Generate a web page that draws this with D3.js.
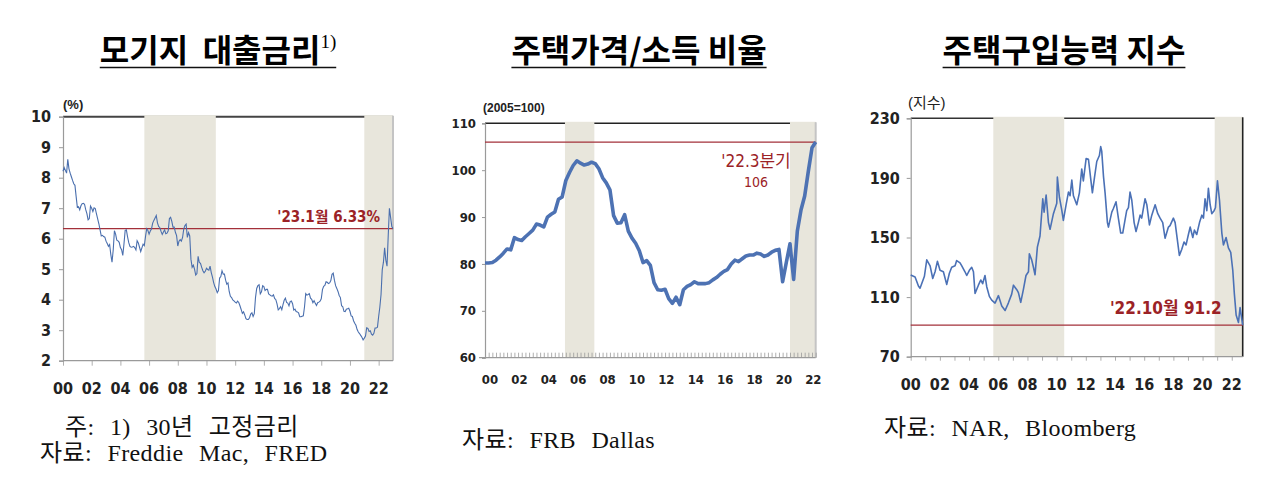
<!DOCTYPE html>
<html>
<head>
<meta charset="utf-8">
<script src="https://cdn.jsdelivr.net/npm/d3@7"></script>
<style>
	body { margin: 0; background: #fff; }
	.tick-label { font-family: 'Liberation Sans Narrow', 'DejaVu Sans Condensed', 'Liberation Sans', sans-serif; font-weight: bold; font-size: 15px; fill: #222; }
	.title { font-family: 'Noto Sans CJK KR', sans-serif; font-weight: bold; font-size: 32px; fill: #000; }
	.note { font-family: 'Liberation Serif', 'Noto Sans CJK KR', serif; font-size: 24px; fill: #111; word-spacing: 9px; letter-spacing: 0.4px; }
	.anno { font-family: 'Liberation Sans Narrow', 'DejaVu Sans Condensed', 'Noto Sans CJK KR', sans-serif; fill: #9b2226; }
	.unit { font-family: 'Liberation Sans Narrow', 'Liberation Sans', 'Noto Sans CJK KR', sans-serif; font-weight: bold; fill: #222; }
</style>
</head>
<body>
<svg id="chart" width="1275" height="480"></svg>
<script>

// ---- data ----

// x tick labels (years), shared by all three panels
const yearTicks = [2000, 2002, 2004, 2006, 2008, 2010, 2012, 2014, 2016, 2018, 2020, 2022]

// 30yr fixed mortgage rate (%), monthly from 2000.01 to 2023.01
const mortgageRates = [
	8.21, 8.33, 8.24, 8.15, 8.60, 8.29, 8.15, 8.03, 7.91, 7.80, 7.75, 7.38,
	7.03, 7.05, 6.95, 7.08, 7.15, 7.16, 7.13, 6.95, 6.82, 6.62, 6.66, 7.07,
	7.00, 6.89, 7.01, 6.99, 6.81, 6.65, 6.49, 6.29, 6.09, 6.11, 6.07, 6.05,
	5.92, 5.84, 5.75, 5.81, 5.48, 5.23, 5.63, 6.26, 6.15, 5.95, 5.93, 5.88,
	5.71, 5.64, 5.45, 5.83, 6.27, 6.29, 6.06, 5.87, 5.75, 5.72, 5.73, 5.75,
	5.71, 5.63, 5.93, 5.86, 5.72, 5.58, 5.70, 5.82, 5.77, 6.07, 6.33, 6.27,
	6.15, 6.25, 6.32, 6.51, 6.60, 6.68, 6.76, 6.52, 6.40, 6.36, 6.24, 6.14,
	6.22, 6.29, 6.16, 6.18, 6.26, 6.66, 6.70, 6.57, 6.38, 6.38, 6.21, 6.10,
	5.76, 5.92, 5.97, 5.92, 6.04, 6.32, 6.43, 6.48, 6.04, 6.20, 6.09, 5.33,
	5.06, 5.13, 5.00, 4.81, 4.86, 5.42, 5.22, 5.19, 5.06, 4.95, 4.88, 4.93,
	5.03, 4.99, 4.97, 5.10, 4.89, 4.74, 4.56, 4.43, 4.35, 4.23, 4.30, 4.71,
	4.76, 4.95, 4.84, 4.84, 4.64, 4.51, 4.55, 4.27, 4.11, 4.07, 3.99, 3.96,
	3.92, 3.89, 3.95, 3.91, 3.80, 3.68, 3.55, 3.60, 3.50, 3.38, 3.35, 3.35,
	3.41, 3.53, 3.57, 3.45, 3.54, 4.07, 4.37, 4.46, 4.49, 4.19, 4.26, 4.46,
	4.43, 4.30, 4.34, 4.34, 4.19, 4.16, 4.13, 4.12, 4.16, 4.04, 4.00, 3.86,
	3.67, 3.71, 3.77, 3.67, 3.84, 3.98, 4.05, 3.91, 3.89, 3.80, 3.94, 3.96,
	3.87, 3.66, 3.69, 3.61, 3.60, 3.57, 3.44, 3.44, 3.46, 3.47, 3.77, 4.20,
	4.15, 4.17, 4.20, 4.05, 4.01, 3.90, 3.97, 3.88, 3.81, 3.90, 3.92, 3.95,
	4.03, 4.33, 4.44, 4.47, 4.59, 4.57, 4.53, 4.55, 4.63, 4.83, 4.87, 4.64,
	4.46, 4.37, 4.27, 4.14, 4.07, 3.80, 3.77, 3.62, 3.61, 3.69, 3.70, 3.72,
	3.62, 3.47, 3.45, 3.31, 3.23, 3.16, 3.02, 2.94, 2.89, 2.83, 2.77, 2.68,
	2.74, 2.81, 3.08, 3.06, 2.96, 2.98, 2.87, 2.84, 2.90, 3.07, 3.07, 3.10,
	3.45, 3.76, 4.17, 4.98, 5.23, 5.70, 5.30, 5.10, 6.10, 7.00, 6.70, 6.40,
	6.33,
]
const mortgageShades = [[2005.67, 2010.65], [2021.0, 2023.0]]

// house price / income ratio (2005=100), quarterly from 2000Q1 to 2022Q3
const priceIncome = [
	80.2, 80.2, 80.3, 80.8,
	81.5, 82.3, 83.2, 83.0,
	85.6, 85.2, 85.0, 85.8,
	86.5, 87.2, 88.5, 88.3,
	87.9, 90.0, 90.6, 91.1,
	93.8, 94.3, 97.8, 99.5,
	101.0, 102.0, 101.5, 101.1,
	101.3, 101.7, 101.4, 100.3,
	98.4, 97.3, 95.8, 90.3,
	88.7, 88.8, 90.5, 87.0,
	85.5, 84.4, 82.8, 80.3,
	80.7, 79.7, 76.0, 74.5,
	74.4, 74.6, 72.6, 71.6,
	72.9, 71.3, 74.5, 75.2,
	75.6, 76.2, 75.8, 75.8,
	75.8, 76.0, 76.6, 77.1,
	77.8, 78.4, 78.8, 80.0,
	80.8, 80.5, 81.1, 81.7,
	81.9, 81.9, 82.3, 82.1,
	81.6, 81.9, 82.5, 82.9,
	83.1, 76.2, 80.3, 84.3,
	76.7, 87.0, 91.5, 94.5,
	99.8, 104.8, 106.0,
]
const priceIncomeShades = [[2005.44, 2007.44], [2020.75, 2022.5]]

// NAR housing affordability index at its turning points
const haiDates = [
	2000.00, 2000.30, 2000.53, 2000.64, 2000.94, 2001.10, 2001.33, 2001.51, 2001.67, 2001.83,
	2002.01, 2002.24, 2002.47, 2002.65, 2002.81, 2003.04, 2003.15, 2003.38, 2003.50, 2003.72,
	2003.84, 2004.02, 2004.18, 2004.30, 2004.41, 2004.64, 2004.80, 2004.93, 2005.09, 2005.21,
	2005.39, 2005.55, 2005.78, 2006.01, 2006.24, 2006.47, 2006.69, 2006.92, 2007.04, 2007.27,
	2007.38, 2007.54, 2007.72, 2007.90, 2008.07, 2008.13, 2008.29, 2008.41, 2008.52, 2008.68,
	2008.86, 2009.05, 2009.14, 2009.28, 2009.44, 2009.55, 2009.78, 2010.01, 2010.05, 2010.19,
	2010.35, 2010.46, 2010.65, 2010.81, 2010.92, 2011.04, 2011.15, 2011.38, 2011.56, 2011.72,
	2011.83, 2012.02, 2012.18, 2012.34, 2012.45, 2012.59, 2012.75, 2012.93, 2013.02, 2013.09,
	2013.21, 2013.32, 2013.48, 2013.55, 2013.78, 2013.89, 2014.07, 2014.23, 2014.39, 2014.53,
	2014.69, 2014.80, 2014.92, 2015.03, 2015.15, 2015.31, 2015.44, 2015.60, 2015.72, 2015.83,
	2016.06, 2016.18, 2016.36, 2016.52, 2016.75, 2016.93, 2017.09, 2017.27, 2017.43, 2017.66,
	2017.77, 2018.00, 2018.12, 2018.41, 2018.57, 2018.73, 2018.87, 2019.03, 2019.15, 2019.33,
	2019.44, 2019.60, 2019.79, 2019.95, 2020.06, 2020.17, 2020.29, 2020.40, 2020.52, 2020.63,
	2020.79, 2020.88, 2021.02, 2021.16, 2021.32, 2021.43, 2021.61, 2021.77, 2021.93, 2022.07,
	2022.18, 2022.30, 2022.46, 2022.57, 2022.75,
]
const haiValues = [
	124.8, 123.5, 117.5, 116.0, 124.0, 135.0, 131.0, 122.5, 127.0, 134.0,
	128.0, 127.0, 118.5, 126.0, 130.0, 131.0, 134.5, 133.0, 131.0, 127.0,
	124.5, 128.0, 130.0, 127.0, 112.5, 118.0, 121.5, 119.0, 124.5, 117.0,
	110.5, 108.0, 106.0, 111.0, 104.0, 101.0, 106.0, 112.0, 118.0, 115.0,
	113.0, 106.5, 115.0, 124.5, 127.0, 139.0, 135.0, 130.0, 125.0, 143.5,
	151.0, 176.0, 167.0, 178.5, 160.0, 155.5, 166.0, 173.0, 190.5, 177.0,
	168.5, 161.5, 172.0, 180.5, 178.0, 188.5, 178.0, 172.0, 180.0, 196.0,
	188.0, 203.0, 202.5, 189.0, 180.0, 190.0, 201.0, 205.0, 211.0, 208.0,
	191.0, 180.0, 160.0, 157.0, 167.0, 169.5, 174.0, 163.0, 153.0, 153.0,
	162.0, 168.0, 170.0, 180.5, 175.0, 160.0, 154.0, 160.0, 165.0, 163.0,
	176.0, 172.0, 158.5, 165.0, 172.0, 166.0, 163.0, 160.0, 149.5, 157.0,
	158.0, 163.0, 160.0, 138.0, 142.0, 147.0, 145.0, 152.0, 157.0, 150.0,
	155.0, 152.0, 160.0, 165.0, 163.0, 176.0, 168.0, 183.0, 172.0, 166.0,
	168.0, 170.0, 188.0, 175.0, 153.0, 145.0, 150.0, 143.0, 140.0, 128.0,
	112.0, 98.0, 93.0, 103.0, 91.2,
]
const haiShades = [[2005.66, 2010.52], [2020.83, 2022.75]]

// ---- drawing ----

const svg = d3.select('#chart')
const shadeColor = '#e8e6dc'
const refColor = '#a3303a'
const lineColor = '#4a6fae'

const drawPanel = ({ x, y, yTicks, yTickSize, shades, ref, xTickValues, xTickSize, xTicksUp, labelShift, frame }) => {

	const [x0, x1] = x.range()
	const [y1, y0] = y.range()
	const g = svg.append('g')

	// top frame line, the shades lie over it
	g.append('line')
		.attr('x1', x0).attr('x2', x1)
		.attr('y1', y0).attr('y2', y0)
		.attr('stroke', frame.top).attr('stroke-width', frame.topWidth)

	g.selectAll('rect.shade')
		.data(shades)
		.join('rect')
		.attr('class', 'shade')
		.attr('x', d => x(d[0]))
		.attr('width', d => x(d[1]) - x(d[0]))
		.attr('y', y0 - 1.5)
		.attr('height', y1 - y0 + 1.5)
		.attr('fill', shadeColor)

	// right frame line
	g.append('line')
		.attr('x1', x1).attr('x2', x1)
		.attr('y1', y0 - 1).attr('y2', y1)
		.attr('stroke', frame.right).attr('stroke-width', frame.rightWidth)

	// y axis
	const yAxis = g.append('g')
		.attr('transform', `translate(${x0},0)`)
		.call(d3.axisLeft(y).tickValues(yTicks).tickSize(yTickSize).tickPadding(frame.yPad))
	yAxis.select('.domain').attr('stroke', '#9a9a9a').attr('stroke-width', 1.2)
	yAxis.selectAll('.tick line').attr('stroke', '#9a9a9a')
	yAxis.selectAll('.tick text').attr('class', 'tick-label').attr('fill', null)
		.style('font-size', frame.font)

	// x axis: small tick marks
	const xAxis = g.append('g')
		.attr('transform', `translate(0,${y1})`)
		.call(d3.axisBottom(x).tickValues(xTickValues).tickSize(xTicksUp ? -xTickSize : xTickSize).tickFormat(''))
	xAxis.select('.domain').attr('stroke', '#9a9a9a').attr('stroke-width', 1.2)
		.attr('d', `M${x0 - (xTicksUp ? 6 : 0)},0H${x1}`)
	xAxis.selectAll('.tick line').attr('stroke', '#9a9a9a').attr('stroke-width', 0.8)

	// x tick labels
	g.selectAll('text.xlab')
		.data(yearTicks)
		.join('text')
		.attr('class', 'tick-label')
		.attr('x', d => x(d) + labelShift)
		.attr('y', frame.labelY)
		.attr('text-anchor', 'middle')
		.attr('dominant-baseline', 'middle')
		.style('font-size', frame.font)
		.text(d => d3.format('02')(d % 100))

	// reference line
	g.append('line')
		.attr('x1', x0).attr('x2', x1)
		.attr('y1', y(ref)).attr('y2', y(ref))
		.attr('stroke', refColor).attr('stroke-width', 1.2)

	return g
}

// panel 1: mortgage rate
{
	const x = d3.scaleLinear().domain([2000, 2023]).range([63, 393])
	const y = d3.scaleLinear().domain([2, 10]).range([360.7, 116.7])
	const g = drawPanel({
		x, y, yTicks: d3.range(2, 11), yTickSize: 4,
		shades: mortgageShades, ref: 6.33,
		xTickValues: yearTicks, xTickSize: 5, xTicksUp: false, labelShift: 0,
		frame: { top: '#444', topWidth: 2, right: '#c4c4c4', rightWidth: 2, yPad: 8, labelY: 389, font: '16px' },
	})
	const line = d3.line()
		.x((d, i) => x(2000 + i / 12))
		.y(d => y(d))
	g.append('path')
		.datum(mortgageRates)
		.attr('d', line)
		.attr('fill', 'none')
		.attr('stroke', lineColor)
		.attr('stroke-width', 1.1)
	g.append('text')
		.attr('class', 'anno')
		.attr('x', 380).attr('y', 221.5)
		.attr('text-anchor', 'end')
		.style('font-size', '15px').style('font-weight', 'bold')
		.text("'23.1월 6.33%")
	g.append('text')
		.attr('class', 'unit')
		.attr('x', 63).attr('y', 109)
		.style('font-size', '13px')
		.text('(%)')
}

// panel 2: house price to income ratio
{
	const x = d3.scaleLinear().domain([2000, 2022.5]).range([485, 815.7])
	const y = d3.scaleLinear().domain([60, 110]).range([357.7, 123.3])
	const g = drawPanel({
		x, y, yTicks: d3.range(60, 111, 10), yTickSize: 3,
		shades: priceIncomeShades, ref: 106,
		xTickValues: d3.range(0, 91).map(i => 2000 + i / 4), xTickSize: 5, xTicksUp: true, labelShift: 5,
		frame: { top: '#222', topWidth: 1.5, right: '#c4c4c4', rightWidth: 2, yPad: 6, labelY: 380, font: '13px' },
	})
	const line = d3.line()
		.x((d, i) => x(2000 + i / 4))
		.y(d => y(d))
	g.append('path')
		.datum(priceIncome)
		.attr('d', line)
		.attr('fill', 'none')
		.attr('stroke', '#4d72b3')
		.attr('stroke-width', 3.6)
		.attr('stroke-linejoin', 'round')
	g.append('text')
		.attr('class', 'anno')
		.attr('x', 756).attr('y', 167)
		.attr('text-anchor', 'middle')
		.style('font-size', '17px')
		.text("'22.3분기")
	g.append('text')
		.attr('class', 'anno')
		.attr('x', 756).attr('y', 187)
		.attr('text-anchor', 'middle')
		.style('font-size', '14px')
		.text('106')
	g.append('text')
		.attr('class', 'unit')
		.attr('x', 483).attr('y', 112)
		.style('font-size', '12px')
		.text('(2005=100)')
}

// panel 3: housing affordability index
{
	const x = d3.scaleLinear().domain([2000, 2022.75]).range([910.7, 1242.7])
	const y = d3.scaleLinear().domain([70, 230]).range([356.7, 118.3])
	const g = drawPanel({
		x, y, yTicks: d3.range(70, 231, 40), yTickSize: 4,
		shades: haiShades, ref: 91.2,
		xTickValues: d3.range(2000, 2023), xTickSize: 4, xTicksUp: false, labelShift: 0,
		frame: { top: '#333', topWidth: 1.6, right: '#222', rightWidth: 1.6, yPad: 7, labelY: 385, font: '16px' },
	})
	const line = d3.line()
		.x((d, i) => x(haiDates[i]))
		.y(d => y(d))
	g.append('path')
		.datum(haiValues)
		.attr('d', line)
		.attr('fill', 'none')
		.attr('stroke', '#4b71b6')
		.attr('stroke-width', 1.6)
		.attr('stroke-linejoin', 'round')
	g.append('text')
		.attr('class', 'anno')
		.attr('x', 1221.7).attr('y', 314)
		.attr('text-anchor', 'end')
		.style('font-size', '17px').style('font-weight', 'bold')
		.text("'22.10월 91.2")
	g.append('text')
		.attr('class', 'unit')
		.attr('x', 908).attr('y', 108)
		.style('font-size', '15px').style('font-weight', 'normal')
		.text('(지수)')
}

// ---- titles ----

const titles = [
	{ cx: 218, text: '모기지  대출금리', sup: '1)' },
	{ cx: 639, text: '주택가격/소득 비율', sup: '' },
	{ cx: 1064, text: '주택구입능력 지수', sup: '' },
]
titles.forEach(t => {
	const txt = svg.append('text')
		.attr('class', 'title')
		.attr('x', t.cx).attr('y', 62)
		.attr('text-anchor', 'middle')
		.style('white-space', 'pre')
	txt.append('tspan').text(t.text)
	if (t.sup) {
		txt.append('tspan')
			.attr('dy', -14)
			.style('font-family', "'Liberation Serif', serif")
			.style('font-weight', 'normal')
			.style('font-size', '19px')
			.text(t.sup)
	}
	const box = txt.node().getBBox()
	svg.append('line')
		.attr('x1', box.x).attr('x2', box.x + box.width)
		.attr('y1', 67.5).attr('y2', 67.5)
		.attr('stroke', '#111').attr('stroke-width', 1.6)
})

// ---- notes ----

const notes = [
	{ x: 65, y: 435, text: '주: 1) 30년 고정금리' },
	{ x: 40, y: 461, text: '자료: Freddie Mac, FRED' },
	{ x: 462, y: 448, text: '자료: FRB Dallas' },
	{ x: 884, y: 436, text: '자료: NAR, Bloomberg' },
]
svg.selectAll('text.note')
	.data(notes)
	.join('text')
	.attr('class', 'note')
	.attr('x', d => d.x)
	.attr('y', d => d.y)
	.text(d => d.text)

</script>
</body>
</html>
